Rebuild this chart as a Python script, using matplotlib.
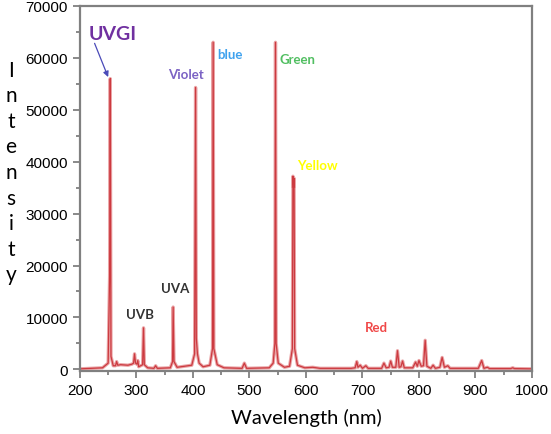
import matplotlib.pyplot as plt
from matplotlib.ticker import MultipleLocator

# mercury lamp spectrum
wavelength = [200, 240, 250, 252.6, 253.7, 255, 259,
              263, 265, 267, 272, 285, 292,
              295, 296.7, 298.5, 301, 302.5, 304,
              311, 312.6, 314, 320,
              331, 334, 337, 360,
              364, 365, 366.5, 372,
              398, 403, 404.7, 406, 408, 411, 418,
              430, 434.7, 435.8, 437, 443, 455,
              487, 491, 495,
              535, 542, 545, 546.1, 547.3, 551, 562,
              571, 576, 577, 578, 579, 580, 585, 598,
              612, 625, 680, 687, 690, 692, 696, 700, 706, 710,
              734, 738, 742, 747, 750, 753, 759, 762, 765, 768, 771, 774,
              789, 794, 797, 800, 804, 808, 811, 814,
              821, 825, 829, 837, 841, 845, 851, 855,
              905, 911, 915, 921, 925, 962, 966, 969, 1000]
intensity = [100, 300, 1200, 18000, 56000, 2500, 700,
             700, 1500, 800, 900, 800, 1000,
             1200, 3000, 1200, 1000, 1700, 500,
             900, 8000, 900, 300,
             200, 700, 200, 300,
             1500, 12000, 1500, 400,
             800, 3000, 54300, 6000, 3000, 1200, 500,
             800, 4000, 63000, 4000, 900, 300,
             200, 1200, 200,
             300, 1200, 5000, 63000, 5000, 1200, 400,
             600, 4000, 37200, 35000, 36800, 4000, 800, 300,
             400, 200, 200, 300, 1500, 400, 800, 200, 700, 200,
             200, 1200, 300, 400, 1600, 400, 400, 3600, 400, 500, 1600, 300,
             300, 1400, 600, 1700, 600, 700, 5600, 600,
             200, 800, 200, 400, 2300, 400, 700, 200,
             200, 1700, 200, 400, 150, 150, 300, 150, 100]

labels = ['UVB', 'UVA', 'Violet', 'blue', 'Green', 'Yellow', 'Red']
label_x = [306, 369, 387, 465, 585, 620, 724]
label_y = [10600, 15600, 56900, 60700, 59800, 39300, 8100]
label_colors = ['#333333', '#333333', '#7b62c4', '#3fa2ee', '#52bf62', '#ffff00', '#f04848']

fig = plt.figure(figsize=(5.51, 4.35), dpi=100)
ax = fig.add_axes([0.145, 0.145, 0.8205, 0.839])

ax.plot(wavelength, intensity, color='#eaa4a6', lw=2.4, solid_joinstyle='round')
ax.plot(wavelength, intensity, color='#cc3a40', lw=0.9)

ax.set_xlim(200, 1000)
ax.set_ylim(-300, 70000)
ax.xaxis.set_major_locator(MultipleLocator(100))
ax.xaxis.set_minor_locator(MultipleLocator(50))
ax.yaxis.set_major_locator(MultipleLocator(10000))
ax.yaxis.set_minor_locator(MultipleLocator(5000))
ax.tick_params(which='both', direction='out', color='#808080', width=1.3)
ax.tick_params(which='major', length=5, labelsize=11)
ax.tick_params(which='minor', length=3)
for lab in ax.get_xticklabels() + ax.get_yticklabels():
    lab.set_family('Liberation Sans')
for s in ax.spines.values():
    s.set_color('#808080')
    s.set_linewidth(1.6)

for t, x, y, c in zip(labels, label_x, label_y, label_colors):
    ax.text(x, y, t, color=c, fontsize=9.5, fontweight='bold', ha='center', va='center', family='Lato')

ax.text(258, 64600, 'UVGI', color='#7030a0', fontsize=14, fontweight='bold',
        ha='center', va='center', family='Lato')
ax.annotate('', xy=(250, 56300), xytext=(226, 62800),
            arrowprops=dict(arrowstyle='-|>', color='#4a4ab8', lw=0.9,
                            mutation_scale=8, shrinkA=0, shrinkB=0))

ax.set_xlabel('Wavelength (nm)', fontsize=14.5, family='Lato', labelpad=8)
fig.text(0.02, 1 - 173 / 435, '\n'.join('Intensity'), fontsize=15, family='Lato',
         ha='center', va='center', linespacing=1.35)

fig.savefig('out.png', dpi=100)
